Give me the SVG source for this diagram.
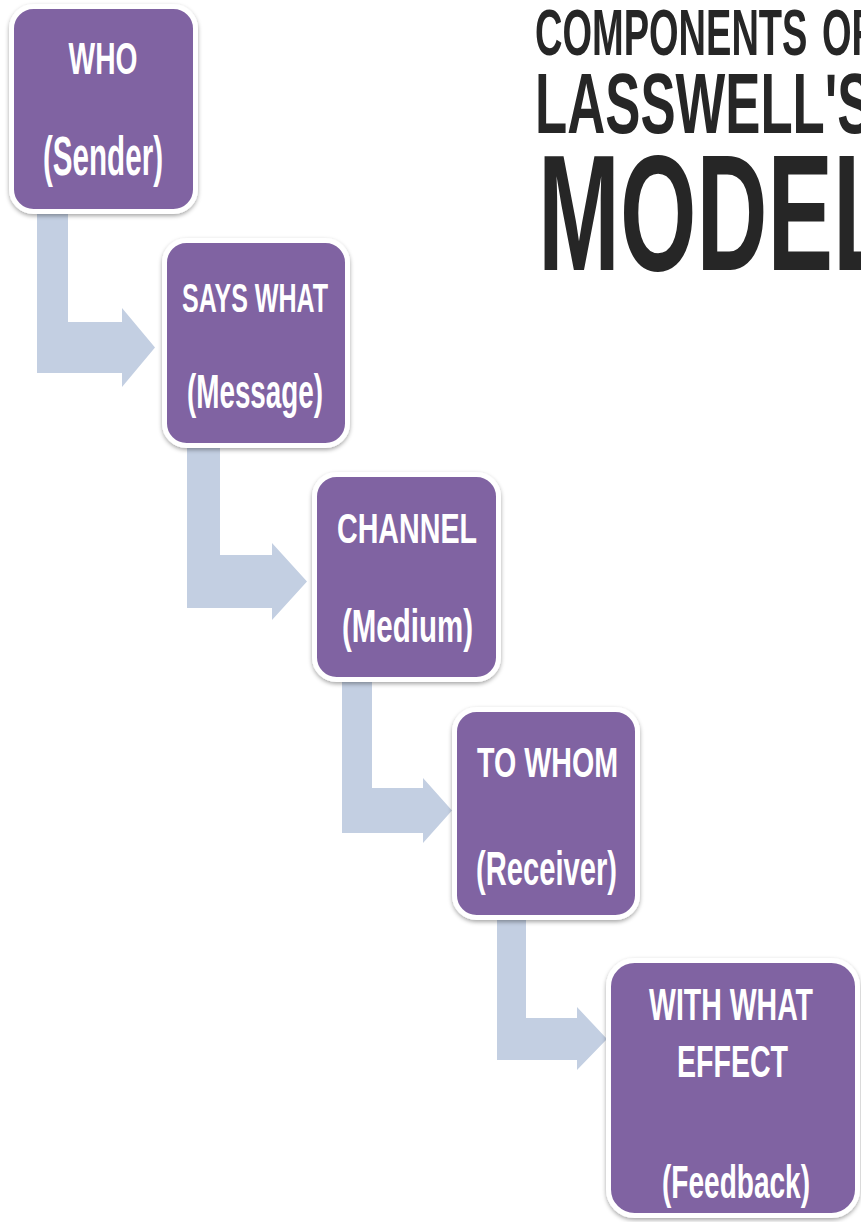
<svg xmlns="http://www.w3.org/2000/svg" width="861" height="1222" viewBox="0 0 861 1222">
<style>
.box{fill:#8064a2;stroke:#ffffff;stroke-width:5;filter:url(#sh)}
.lbl{fill:#ffffff;font-family:"Liberation Sans",Arial,sans-serif;font-weight:bold;text-anchor:middle}
.arr{fill:#c3cfe2}
.ttl{fill:#262626;font-family:"Liberation Sans",Arial,sans-serif;font-weight:bold}
</style>
<defs>
<filter id="sh" x="-10%" y="-10%" width="120%" height="125%">
<feDropShadow dx="0" dy="2" stdDeviation="2" flood-color="#000000" flood-opacity="0.35"/>
</filter>
</defs>
<rect width="861" height="1222" fill="#ffffff"/>
<g id="title">
<text class="ttl" font-size="64" transform="translate(535,55) scale(0.594,1)">COMPONENTS<tspan x="483">OF</tspan></text>
<text class="ttl" font-size="85" transform="translate(535,133) scale(0.62,1)">LASSWELL'S</text>
<text class="ttl" font-size="165" transform="translate(538,270) scale(0.596,1)">MODEL</text>
</g>
<g id="connectors">
<path class="arr" d="M37,212 L68,212 L68,322 L122,322 L122,308 L155,347.5 L122,387 L122,373 L37,373 Z"/>
<path class="arr" d="M187,448 L220,448 L220,555 L272,555 L272,543 L307,581.5 L272,620 L272,608 L187,608 Z"/>
<path class="arr" d="M342,682 L372,682 L372,788 L423,788 L423,778 L452,810.5 L423,843 L423,833 L342,833 Z"/>
<path class="arr" d="M497,918 L526,918 L526,1018 L577,1018 L577,1007 L607,1039 L577,1070 L577,1060 L497,1060 Z"/>
</g>
<g id="who">
<rect class="box" x="11.5" y="6.5" width="184" height="205" rx="22"/>
<text class="lbl" x="103" y="74" font-size="45" textLength="69" lengthAdjust="spacingAndGlyphs">WHO</text>
<text class="lbl" x="103" y="175" font-size="55" textLength="120" lengthAdjust="spacingAndGlyphs">(Sender)</text>
</g>
<g id="says-what">
<rect class="box" x="164.5" y="240.5" width="183" height="205" rx="22"/>
<text class="lbl" x="255" y="312" font-size="40" textLength="146" lengthAdjust="spacingAndGlyphs">SAYS WHAT</text>
<text class="lbl" x="255" y="408" font-size="49" textLength="136" lengthAdjust="spacingAndGlyphs">(Message)</text>
</g>
<g id="channel">
<rect class="box" x="314.5" y="474.5" width="184" height="205" rx="22"/>
<text class="lbl" x="407" y="543" font-size="42" textLength="140" lengthAdjust="spacingAndGlyphs">CHANNEL</text>
<text class="lbl" x="407.5" y="642" font-size="47" textLength="131" lengthAdjust="spacingAndGlyphs">(Medium)</text>
</g>
<g id="to-whom">
<rect class="box" x="454.5" y="709.5" width="183" height="208" rx="22"/>
<text class="lbl" x="547.5" y="777" font-size="42" textLength="141" lengthAdjust="spacingAndGlyphs">TO WHOM</text>
<text class="lbl" x="546.5" y="885" font-size="49" textLength="141" lengthAdjust="spacingAndGlyphs">(Receiver)</text>
</g>
<g id="with-what-effect">
<rect class="box" x="608.5" y="960.5" width="249" height="255" rx="26"/>
<text class="lbl" x="731" y="1020" font-size="45" textLength="164" lengthAdjust="spacingAndGlyphs">WITH WHAT</text>
<text class="lbl" x="732.5" y="1077" font-size="45" textLength="111" lengthAdjust="spacingAndGlyphs">EFFECT</text>
<text class="lbl" x="736" y="1198" font-size="47" textLength="148" lengthAdjust="spacingAndGlyphs">(Feedback)</text>
</g>
</svg>
